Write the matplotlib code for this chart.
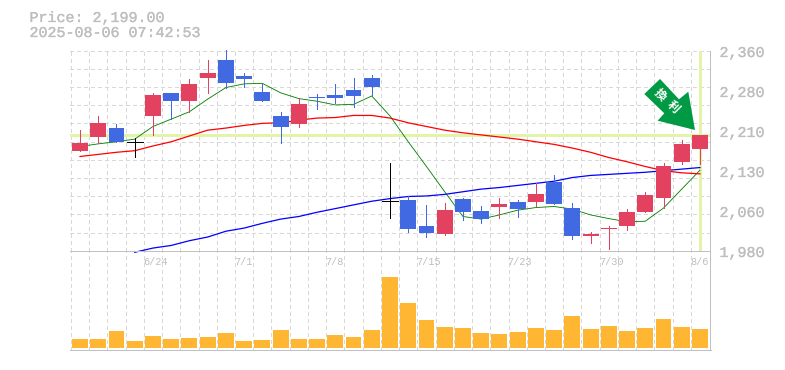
import matplotlib
matplotlib.use("Agg")
import matplotlib.pyplot as plt
import matplotlib.patheffects as pe
from matplotlib.patches import Polygon

W, H = 785, 370

# OHLC (red = up, blue = down, black = unchanged)
opens  = [2169,2196,2213,2187,2236,2280,2264,2308,2342,2312,2282,2236,2221,2272,2276,2285,2308,2074,2076,2027,2012,2078,2055,2063,2072,2072,2110,2061,2008,2021,2027,2054,2080,2148,2173]
highs  = [2209,2236,2221,2194,2280,2280,2306,2342,2361,2318,2297,2244,2270,2278,2297,2308,2314,2147,2083,2067,2071,2080,2065,2080,2076,2108,2124,2071,2016,2027,2059,2092,2147,2190,2199]
lows   = [2169,2185,2187,2158,2200,2230,2244,2280,2289,2291,2264,2185,2215,2249,2261,2253,2276,2042,2016,2006,2010,2038,2033,2042,2044,2065,2069,2002,1995,1983,2019,2054,2061,2145,2145]
closes = [2185,2223,2187,2187,2276,2264,2297,2318,2299,2306,2264,2215,2259,2270,2270,2274,2291,2074,2021,2014,2057,2053,2040,2069,2059,2088,2069,2008,2012,2023,2054,2086,2141,2183,2199]
volumes = [9,9,17,7,12,9,10,11,15,7,8,18,9,9,13,11,18,71,45,28,21,20,15,14,16,20,18,32,19,22,17,20,29,21,19]

ma_short = [2178,2183,2187,2192,2216,2230,2244,2268,2290,2297,2298,2280,2269,2264,2257,2258,2274,2236,2187,2140,2092,2045,2040,2048,2057,2062,2064,2059,2048,2041,2035,2036,2061,2097,2133]
ma_mid = [2159,2163,2167,2170,2179,2187,2198,2209,2213,2218,2222,2223,2228,2232,2233,2237,2237,2232,2223,2216,2209,2204,2200,2196,2192,2187,2182,2175,2167,2157,2149,2140,2132,2128,2126]
ma_long = [1977,1985,1990,1999,2006,2017,2023,2032,2040,2045,2053,2060,2067,2074,2079,2083,2084,2087,2092,2097,2100,2104,2108,2112,2119,2123,2125,2127,2129,2132,2135,2138]
ma_long_start = 3

price_ticks = ["2,360","2,280","2,210","2,130","2,060","1,980"]
date_labels = ["6/24","7/1","7/8","7/15","7/23","7/30","8/6"]
date_index = [4,9,14,19,24,29,34]
last_price = 2199
title_lines = ["Price: 2,199.00","2025-08-06 07:42:53"]
signal_text = "換利"

RED, BLUE, BLACK = "#e2425f", "#4169e1", "#000000"
GRID = "#d8d8d8"; FRAME = "#c0c0c0"; TXT = "#bebebe"; HL = "#e3f4a8"; VOL = "#ffb733"

plt.rcParams['font.family'] = ['Liberation Mono','DejaVu Sans Mono','Noto Sans CJK JP']
plt.rcParams['lines.antialiased'] = False
px = 0.72
thin = 0.45
fig = plt.figure(figsize=(W/100, H/100), dpi=100)
bold = [pe.withStroke(linewidth=0.2, foreground=TXT)]

def box(l, t, r, b):
    return [l/W, 1-b/H, (r-l)/W, (b-t)/H]

ax = fig.add_axes(box(70, 50.7, 710, 250.7))
av = fig.add_axes(box(70, 250.7, 710, 350))
n = len(opens)
for a in (ax, av):
    a.set_xlim(-0.55, n-1+0.55)
    a.patch.set_alpha(0)
    a.tick_params(left=False, bottom=False, labelleft=False, labelbottom=False)
    for s in a.spines.values():
        s.set_visible(False)
    for i in range(n):
        a.axvline(i-0.5, color=GRID, lw=px, dashes=(3, 3), zorder=1)
ax.set_ylim(1980, 2360)
av.set_ylim(-2, 97.3)

step = (2360-1980)/11
for k in range(1, 12):
    ax.axhline(1980+k*step, color=GRID, lw=px, dashes=(3, 3), zorder=1)

ax.axhline(last_price, color=HL, lw=3*px, zorder=2)
ax.plot([n-1, n-1], [1981, 2360], color=HL, lw=3*px, zorder=2, solid_capstyle='butt')

ax.plot(range(n), ma_short, color="#008000", lw=0.62, zorder=3, antialiased=True)
ax.plot(range(n), ma_mid, color="#ff0000", lw=0.9, zorder=3, antialiased=True)
ax.plot(range(ma_long_start, ma_long_start+len(ma_long)), ma_long, color="#0000ff", lw=0.9, zorder=3, clip_on=False, antialiased=True)

for i in range(n):
    o, h, l, c = opens[i], highs[i], lows[i], closes[i]
    col = RED if c > o else (BLUE if c < o else BLACK)
    ax.plot([i, i], [l, h], color=col, lw=thin, zorder=4, clip_on=False, solid_capstyle='butt')
    if c == o:
        ax.plot([i-0.44, i+0.44], [o, o], color=col, lw=thin, zorder=5, solid_capstyle='butt')
    else:
        ax.bar(i, abs(c-o), bottom=min(o, c), width=0.87, color=col, zorder=5, linewidth=0)

av.bar(range(n), volumes, width=0.87, color=VOL, linewidth=0, zorder=3)

# frame
fig.add_artist(plt.Line2D([70/W, 710/W], [1-250.5/H]*2, color=FRAME, lw=thin))
fig.add_artist(plt.Line2D([70/W, 710.5/W], [1-350/H]*2, color=FRAME, lw=thin))
fig.add_artist(plt.Line2D([710/W, 710/W], [1-50.5/H, 1-350/H], color=FRAME, lw=thin))

# labels
for t, y in zip(title_lines, (18, 33)):
    fig.text(29.5/W, 1-y/H, t, fontsize=10.8, color=TXT, va='center', ha='left', path_effects=bold)
for j, t in enumerate(price_ticks):
    fig.text(719.5/W, 1-(53+40*j)/H, t, fontsize=10.8, color=TXT, va='center', ha='left', path_effects=bold)
for idx, t in zip(date_index, date_labels):
    xp = 80+18.24*(idx-0.5)-1
    fig.text(xp/W, 1-262/H, t, fontsize=7.4, color=TXT, va='center', ha='left')

# signal arrow
pts = [(660,79),(644.3,94),(664.3,113.3),(657.7,120.7),(695,130),(688.3,91.7),(679,99.3)]
fig.add_artist(Polygon([(x/W, 1-y/H) for x, y in pts], closed=True, transform=fig.transFigure, fc="#009944", ec='none', zorder=6))
for ch, (x, y) in zip(signal_text, [(660, 95), (673, 107)]):
    fig.text(x/W, 1-y/H, ch, color="white", fontsize=8.5, rotation=-45, rotation_mode='anchor', fontweight='bold',
             ha='center', va='center', family=['Noto Sans CJK JP'], zorder=7)

fig.savefig("out.png", dpi=100)
